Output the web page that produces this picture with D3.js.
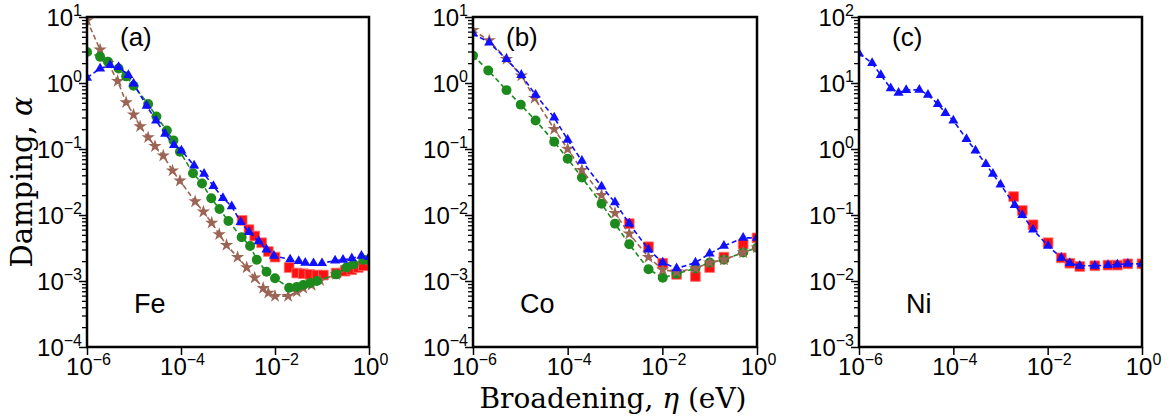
<!DOCTYPE html>
<html>
<head>
<meta charset="utf-8">
<script src="https://cdn.jsdelivr.net/npm/d3@7/dist/d3.min.js"></script>
<style>
body{margin:0;background:#fff;}
svg{display:block;}
</style>
</head>
<body>
<svg id="svg" width="1174" height="416"></svg>
<script>
// ---- data (eta in eV, alpha) ----
// (a) Fe
var feStarEta=[1e-6,1.9e-6,2.8e-6,4.5e-6,6.8e-6,9.8e-6,1.35e-5,2e-5,2.8e-5,4.2e-5,6.6e-5,9.5e-5,2e-4,3e-4,4.5e-4,6.5e-4,9.3e-4,1.6e-3,2.5e-3,3.7e-3,5.6e-3,7.2e-3,1e-2,1.9e-2,2.9e-2,4e-2,6e-2,9.1e-2,0.2,0.33,0.47,0.76,1];
var feStarAlpha=[8.9,3.2,2.0,1.07,0.51,0.33,0.22,0.15,0.11,0.079,0.047,0.033,0.016,0.0112,0.0076,0.0051,0.0035,0.0023,0.0016,0.00112,7.8e-4,6.6e-4,5.9e-4,5.9e-4,6.9e-4,7.8e-4,8.7e-4,1.02e-3,1.26e-3,1.6e-3,1.8e-3,2.1e-3,2.1e-3];
var feCircEta=[1e-6,1.9e-6,2.8e-6,4.7e-6,6.8e-6,9.8e-6,2e-5,3e-5,5e-5,6.9e-5,9.5e-5,1.8e-4,2.8e-4,4.4e-4,6.6e-4,1.02e-3,1.95e-3,2.95e-3,4.1e-3,6.6e-3,1e-2,2e-2,2.9e-2,4e-2,5.6e-2,7.8e-2,0.2,0.33,0.47,0.76,1];
var feCircAlpha=[2.95,2.5,2.1,1.66,1.26,0.91,0.48,0.31,0.19,0.135,0.091,0.043,0.030,0.018,0.0123,0.0081,0.0046,0.0034,0.0021,0.00138,0.0011,7.9e-4,8.1e-4,8.7e-4,9.3e-4,1.0e-3,1.26e-3,1.6e-3,1.8e-3,2.1e-3,2.1e-3];
var feTriEta=[1e-6,1.9e-6,3.1e-6,4.7e-6,7.6e-6,9.8e-6,1.86e-5,2.95e-5,4.6e-5,7.1e-5,1.02e-4,1.9e-4,3.1e-4,4.9e-4,7.8e-4,1.2e-3,1.86e-3,2.8e-3,4.5e-3,6.6e-3,9.5e-3,2.1e-2,3.2e-2,4.4e-2,6.6e-2,0.1,0.19,0.28,0.43,0.69,1];
var feTriAlpha=[1.2,1.66,1.86,1.74,1.32,0.98,0.45,0.27,0.17,0.115,0.095,0.056,0.042,0.0275,0.018,0.0135,0.0078,0.0055,0.0040,0.0030,0.0024,0.00212,0.0020,0.00188,0.00186,0.00186,0.00204,0.0021,0.0022,0.0024,0.0023];
var feSqEta=[2e-3,2.8e-3,3.7e-3,5.2e-3,7.2e-3,1e-2,2e-2,2.9e-2,4e-2,5.5e-2,7.8e-2,0.107,0.2,0.31,0.43,0.59,0.76];
var feSqAlpha=[0.0083,0.0060,0.0048,0.0038,0.0028,0.0023,0.0016,0.00132,0.00129,0.00126,0.00123,0.00123,0.00132,0.00141,0.00148,0.0016,0.0017];

// (b) Co
var coStarEta=[1e-6,2.2e-6,5.1e-6,1.05e-5,2e-5,5.2e-5,1e-4,2e-4,5.2e-4,1e-3,2e-3,5.1e-3,1.02e-2,2e-2,5e-2,0.1,0.2,0.51,1];
var coStarAlpha=[6.3,4.4,2.3,1.29,0.59,0.20,0.1,0.048,0.020,0.0107,0.0052,0.0023,0.00148,0.00138,0.00155,0.0019,0.0021,0.0027,0.0032];
var coCircEta=[1e-6,2.1e-6,5.1e-6,1.02e-5,2.1e-5,5.2e-5,1e-4,2e-4,5.2e-4,1e-3,2e-3,5.1e-3,1.02e-2,2e-2,5e-2,0.1,0.2,0.51,1];
var coCircAlpha=[2.6,1.55,0.78,0.47,0.27,0.129,0.071,0.037,0.0148,0.0074,0.0036,0.00151,0.00112,0.00129,0.00155,0.0019,0.0021,0.0027,0.0032];
var coTriEta=[1e-6,2.2e-6,5.1e-6,1.05e-5,2.1e-5,5.2e-5,1e-4,2e-4,5.2e-4,1e-3,2e-3,5.1e-3,1.02e-2,2e-2,5e-2,0.1,0.2,0.51,1];
var coTriAlpha=[5.6,4.1,2.3,1.32,0.66,0.30,0.138,0.066,0.027,0.0155,0.0074,0.0030,0.0019,0.00155,0.0019,0.0026,0.0034,0.0045,0.0045];
var coSqEta=[2e-3,5.1e-3,1.02e-2,2e-2,5e-2,0.1,0.2,0.51,1];
var coSqAlpha=[0.0074,0.0033,0.00186,0.00126,0.00117,0.0016,0.0023,0.0036,0.0045];

// (c) Ni
var niTriEta=[1e-6,1.9e-6,2.9e-6,4.7e-6,6.9e-6,1e-5,1.9e-5,2.9e-5,4.7e-5,6.8e-5,1e-4,1.9e-4,2.95e-4,4.9e-4,6.9e-4,1e-3,2e-3,2.9e-3,4.9e-3,1.02e-2,1.95e-2,2.95e-2,4.8e-2,0.1,0.19,0.3,0.5,1];
var niTriAlpha=[28,20,13.2,8.3,7.1,7.8,7.9,6.6,4.8,3.5,2.7,1.41,0.95,0.59,0.42,0.29,0.141,0.1,0.060,0.034,0.0224,0.0186,0.017,0.017,0.0174,0.0178,0.0182,0.0182];
var niSqEta=[1.9e-3,2.9e-3,4.9e-3,1.02e-2,1.95e-2,2.95e-2,4.8e-2,0.1,0.19,0.3,0.5,1];
var niSqAlpha=[0.19,0.117,0.071,0.038,0.0224,0.0186,0.0166,0.017,0.0174,0.0174,0.0182,0.0182];

var xTicks=[1e-6,1e-4,1e-2,1];
var yTicksA=[10,1,0.1,0.01,0.001,0.0001];
var yTicksC=[100,10,1,0.1,0.01,0.001];
var panelLetters=["(a)","(b)","(c)"];
var elements=["Fe","Co","Ni"];

var svg=d3.select("#svg");
var plotTop=17, plotBottom=347;

var colors={star:"#9c6454",circ:"#1c8a1c",tri:"#1010ff",sq:"#ff1010"};

function zip(xs,ys){return xs.map(function(d,i){return {x:d,y:ys[i]};});}

var panels=[
	{left:87,right:369,yTicks:yTicksA,series:[
		{kind:"sq",data:zip(feSqEta,feSqAlpha),line:false},
		{kind:"star",data:zip(feStarEta,feStarAlpha),line:true},
		{kind:"circ",data:zip(feCircEta,feCircAlpha),line:true},
		{kind:"tri",data:zip(feTriEta,feTriAlpha),line:true}]},
	{left:473,right:757,yTicks:yTicksA,series:[
		{kind:"sq",data:zip(coSqEta,coSqAlpha),line:false},
		{kind:"circ",data:zip(coCircEta,coCircAlpha),line:true},
		{kind:"star",data:zip(coStarEta,coStarAlpha),line:true},
		{kind:"tri",data:zip(coTriEta,coTriAlpha),line:true}]},
	{left:859,right:1142,yTicks:yTicksC,series:[
		{kind:"sq",data:zip(niSqEta,niSqAlpha),line:false},
		{kind:"tri",data:zip(niTriEta,niTriAlpha),line:true}]}
];

function sup(el,exp){
	el.append("tspan").text("10");
	el.append("tspan").attr("dy",-10).attr("font-size",16)
		.text(exp<0?"\u2212"+(-exp):""+exp);
}

var symbols={
	star:d3.symbol().type(d3.symbolStar).size(55),
	circ:d3.symbol().type(d3.symbolCircle).size(78),
	tri:d3.symbol().type(d3.symbolTriangle).size(44),
	sq:d3.symbol().type(d3.symbolSquare).size(95)
};

panels.forEach(function(p,pi){
	var x=d3.scaleLog().domain([1e-6,1]).range([p.left,p.right]);
	var ymax=p.yTicks[0], ymin=p.yTicks[p.yTicks.length-1];
	var y=d3.scaleLog().domain([ymin,ymax]).range([plotBottom,plotTop]);

	// minor y ticks
	var minor=[];
	for(var e=Math.round(Math.log10(ymin));e<Math.round(Math.log10(ymax));e++){
		for(var k=2;k<10;k++) minor.push(k*Math.pow(10,e));
	}
	svg.append("g").attr("transform","translate("+p.left+",0)")
		.call(d3.axisLeft(y).tickValues(minor).tickSize(5).tickFormat(""))
		.call(function(g){g.select(".domain").remove();g.selectAll("line").attr("stroke-width",1.3);});

	var ya=svg.append("g").attr("transform","translate("+p.left+",0)")
		.call(d3.axisLeft(y).tickValues(p.yTicks).tickSize(8).tickFormat(""))
		.call(function(g){g.select(".domain").remove();g.selectAll("line").attr("stroke-width",1.5);});
	ya.selectAll(".tick").each(function(d){
		var t=d3.select(this).append("text").attr("x",-5).attr("y",8)
			.attr("text-anchor","end").attr("fill","#000")
			.attr("font-family","'Liberation Sans',Arial,sans-serif").attr("font-size",24);
		sup(t,Math.round(Math.log10(d)));
	});

	var xa=svg.append("g").attr("transform","translate(0,"+plotBottom+")")
		.call(d3.axisBottom(x).tickValues(xTicks).tickSize(8).tickFormat(""))
		.call(function(g){g.select(".domain").remove();g.selectAll("line").attr("stroke-width",1.5);});
	xa.selectAll(".tick").each(function(d){
		var t=d3.select(this).append("text").attr("x",1).attr("y",28)
			.attr("text-anchor","middle").attr("fill","#000")
			.attr("font-family","'Liberation Sans',Arial,sans-serif").attr("font-size",24);
		sup(t,Math.round(Math.log10(d)));
	});

	var clipId="clip"+pi;
	svg.append("clipPath").attr("id",clipId).append("rect")
		.attr("x",p.left).attr("y",plotTop).attr("width",p.right-p.left).attr("height",plotBottom-plotTop);

	var plot=svg.append("g").attr("clip-path","url(#"+clipId+")");
	var line=d3.line().x(function(d){return x(d.x);}).y(function(d){return y(d.y);});

	p.series.forEach(function(s){
		var c=colors[s.kind];
		if(s.line){
			plot.append("path").datum(s.data).attr("d",line)
				.attr("fill","none").attr("stroke",c).attr("stroke-width",1.6)
				.attr("stroke-dasharray","5,3");
		}
		plot.selectAll(null).data(s.data).enter().append("path")
			.attr("d",symbols[s.kind])
			.attr("transform",function(d){return "translate("+x(d.x)+","+y(d.y)+")";})
			.attr("fill",c)
			.attr("stroke",s.kind=="sq"?"#ff7070":"none").attr("stroke-width",0.8);
	});

	svg.append("rect").attr("x",p.left).attr("y",plotTop)
		.attr("width",p.right-p.left).attr("height",plotBottom-plotTop)
		.attr("fill","none").attr("stroke","#000").attr("stroke-width",2.5);

	svg.append("text").attr("x",p.left+33).attr("y",46)
		.attr("font-family","'Liberation Sans',Arial,sans-serif").attr("font-size",26)
		.text(panelLetters[pi]);
	svg.append("text").attr("x",p.left+47).attr("y",313)
		.attr("font-family","'Liberation Sans',Arial,sans-serif").attr("font-size",27)
		.text(elements[pi]);
});

svg.append("text").attr("transform","translate(32,182) rotate(-90)")
	.attr("text-anchor","middle").attr("font-family","'DejaVu Serif',serif").attr("font-size",29)
	.html("Damping, <tspan font-style='italic'>\u03b1</tspan>");
svg.append("text").attr("x",613).attr("y",408)
	.attr("text-anchor","middle").attr("font-family","'DejaVu Serif',serif").attr("font-size",28)
	.html("Broadening, <tspan font-style='italic'>\u03b7</tspan> (eV)");
</script>
</body>
</html>
